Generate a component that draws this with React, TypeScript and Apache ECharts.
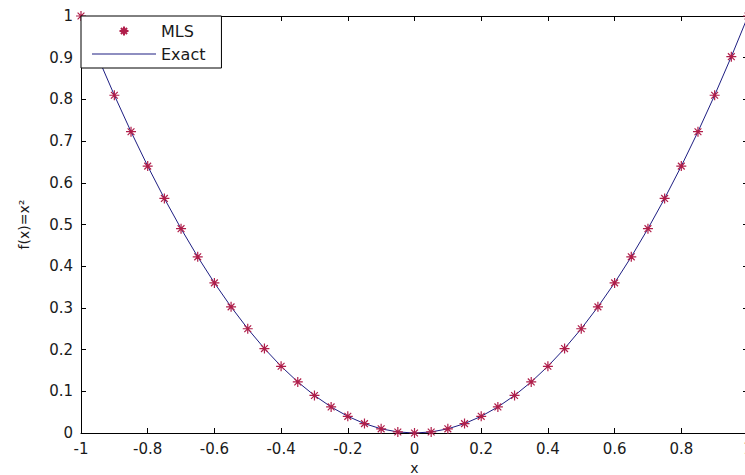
import React, { useEffect, useRef } from "react";
import * as echarts from "echarts";

const xValues = [
  -1, -0.95, -0.9, -0.85, -0.8, -0.75, -0.7, -0.65, -0.6, -0.55, -0.5, -0.45, -0.4, -0.35, -0.3, -0.25, -0.2, -0.15, -0.1, -0.05,
  0, 0.05, 0.1, 0.15, 0.2, 0.25, 0.3, 0.35, 0.4, 0.45, 0.5, 0.55, 0.6, 0.65, 0.7, 0.75, 0.8, 0.85, 0.9, 0.95, 1,
];
const mlsValues = [
  1, 0.9025, 0.81, 0.7225, 0.64, 0.5625, 0.49, 0.4225, 0.36, 0.3025, 0.25, 0.2025, 0.16, 0.1225, 0.09, 0.0625, 0.04, 0.0225, 0.01, 0.0025,
  0, 0.0025, 0.01, 0.0225, 0.04, 0.0625, 0.09, 0.1225, 0.16, 0.2025, 0.25, 0.3025, 0.36, 0.4225, 0.49, 0.5625, 0.64, 0.7225, 0.81, 0.9025, 1,
];
const exactValues = [
  1, 0.9025, 0.81, 0.7225, 0.64, 0.5625, 0.49, 0.4225, 0.36, 0.3025, 0.25, 0.2025, 0.16, 0.1225, 0.09, 0.0625, 0.04, 0.0225, 0.01, 0.0025,
  0, 0.0025, 0.01, 0.0225, 0.04, 0.0625, 0.09, 0.1225, 0.16, 0.2025, 0.25, 0.3025, 0.36, 0.4225, 0.49, 0.5625, 0.64, 0.7225, 0.81, 0.9025, 1,
];
const seriesNames = ["MLS", "Exact"];
const xAxisName = "x";
const yAxisName = "f(x)=x\u00b2";

const STAR = "path://M5,0L5,10M0,5L10,5M1.6,1.6L8.4,8.4M1.6,8.4L8.4,1.6";
const LEGEND_LINE = "path://M0,0L64,0L64,1L0,1Z";
const FONT = "'DejaVu Sans', Verdana, sans-serif";
const TXT = "#1a1a1a";
const STAR_COLOR = "#b01e4a";
const LINE_COLOR = "#1e1e82";

export default function App() {
  const ref = useRef<HTMLDivElement>(null);
  useEffect(() => {
    if (!ref.current) return;
    const chart = echarts.init(ref.current, undefined, { renderer: "svg" });
    const axisLine = { show: true, onZero: false, lineStyle: { color: "#000", width: 1 } };
    const tick = { show: true, inside: true, length: 5, lineStyle: { color: "#000", width: 1 } };
    const labelStyle = { color: TXT, fontFamily: FONT, fontSize: 15 };
    chart.setOption({
      animation: false,
      backgroundColor: "#fff",
      textStyle: { fontFamily: FONT },
      grid: {
        left: 81,
        top: 16,
        width: 667,
        height: 417,
        containLabel: false,
        outerBoundsMode: "none",
      },
      legend: {
        orient: "vertical",
        left: 81,
        top: 16,
        backgroundColor: "#fff",
        borderColor: "#000",
        borderWidth: 1,
        borderRadius: 0,
        padding: [7, 16, 6, 11],
        itemWidth: 64,
        itemHeight: 9,
        itemGap: 7,
        textStyle: { color: TXT, fontFamily: FONT, fontSize: 16, lineHeight: 16 },
        data: [
          { name: seriesNames[0], icon: STAR },
          { name: seriesNames[1], icon: LEGEND_LINE },
        ],
      },
      xAxis: [
        {
          type: "value",
          min: -1,
          max: 1,
          interval: 0.2,
          position: "bottom",
          axisLine,
          axisTick: tick,
          splitLine: { show: false },
          axisLabel: { ...labelStyle, margin: 8 },
          name: xAxisName,
          nameLocation: "middle",
          nameGap: 28,
          nameTextStyle: { ...labelStyle, fontSize: 14 },
        },
        {
          type: "value",
          min: -1,
          max: 1,
          interval: 0.2,
          position: "top",
          axisLine,
          axisTick: tick,
          splitLine: { show: false },
          axisLabel: { show: false },
        },
      ],
      yAxis: [
        {
          type: "value",
          min: 0,
          max: 1,
          interval: 0.1,
          position: "left",
          axisLine,
          axisTick: tick,
          splitLine: { show: false },
          axisLabel: { ...labelStyle, margin: 8 },
          name: yAxisName,
          nameLocation: "middle",
          nameGap: 50,
          nameRotate: 90,
          nameTextStyle: { ...labelStyle, fontSize: 14 },
        },
        {
          type: "value",
          min: 0,
          max: 1,
          interval: 0.1,
          position: "right",
          axisLine,
          axisTick: tick,
          splitLine: { show: false },
          axisLabel: { show: false },
        },
      ],
      series: [
        {
          name: seriesNames[1],
          type: "line",
          data: xValues.map((x, i) => [x, exactValues[i]]),
          symbol: "none",
          lineStyle: { color: LINE_COLOR, width: 1 },
          itemStyle: { color: LINE_COLOR },
          z: 2,
        },
        {
          name: seriesNames[0],
          type: "scatter",
          data: xValues.map((x, i) => [x, mlsValues[i]]),
          symbol: STAR,
          symbolSize: 10,
          itemStyle: { color: STAR_COLOR, borderColor: STAR_COLOR, borderWidth: 1.2, opacity: 1 },
          z: 3,
        },
      ],
    });
    return () => chart.dispose();
  }, []);
  return (
    <div
      ref={ref}
      style={{ position: "absolute", left: 0, top: 0, width: 745, height: 475, background: "#fff" }}
    />
  );
}
